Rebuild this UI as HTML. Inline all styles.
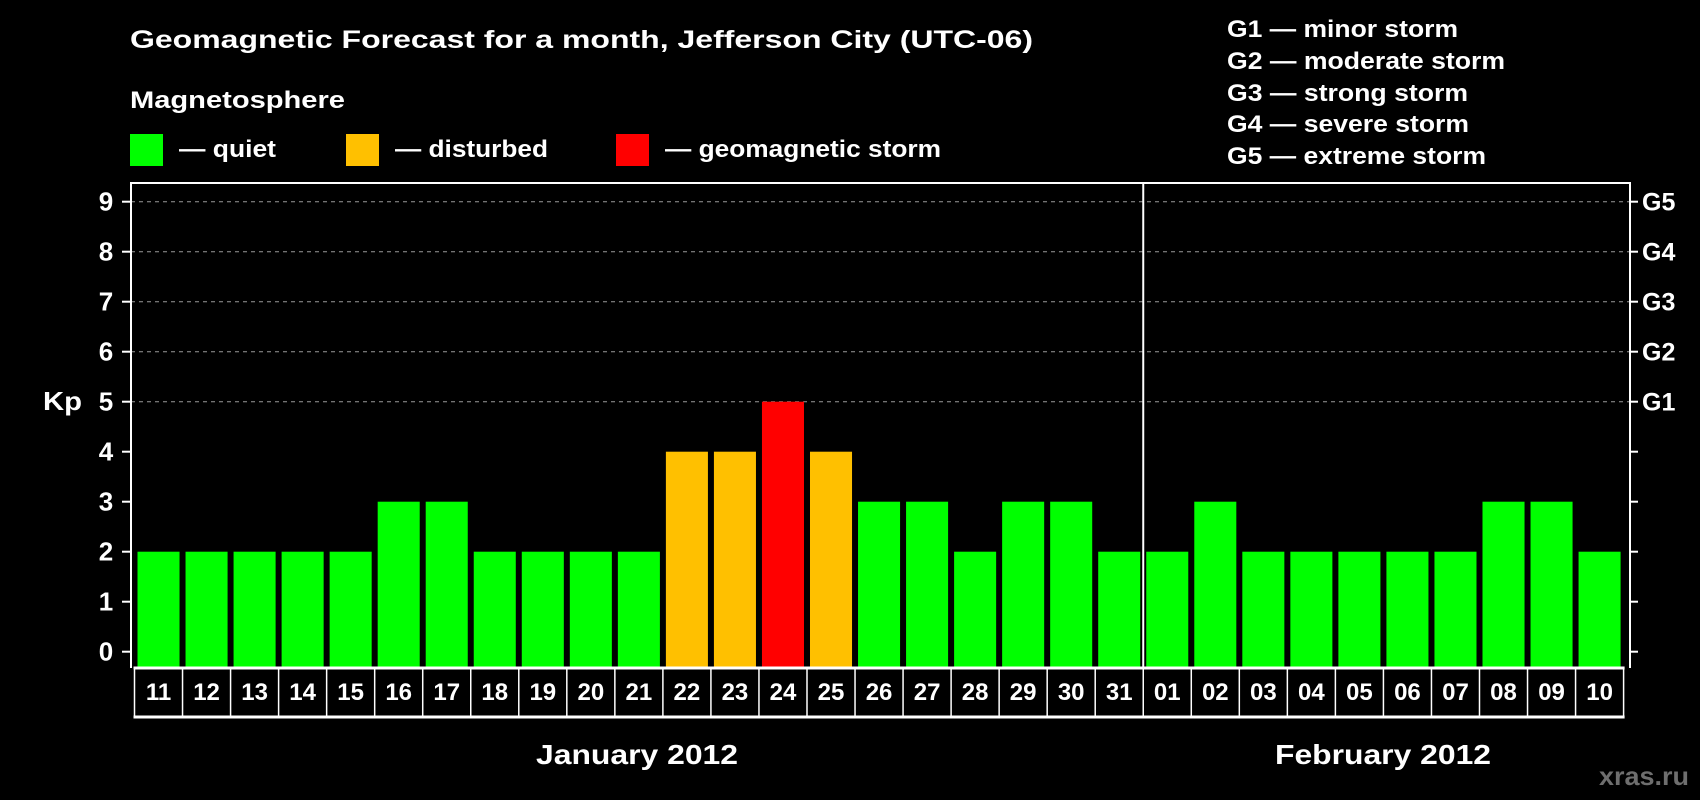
<!DOCTYPE html>
<html><head><meta charset="utf-8"><style>
html,body{margin:0;padding:0;background:#000;}
svg{display:block;font-family:"Liberation Sans",sans-serif;font-weight:bold;}
</style></head><body>
<svg id="chart" width="1700" height="800" viewBox="0 0 1700 800">
<rect x="0" y="0" width="1700" height="800" fill="#000"/>
<text x="130" y="48" fill="#fff" font-size="25" textLength="903" lengthAdjust="spacingAndGlyphs">Geomagnetic Forecast for a month, Jefferson City (UTC-06)</text>
<text x="130" y="108" fill="#fff" font-size="24" textLength="215" lengthAdjust="spacingAndGlyphs">Magnetosphere</text>
<g><rect x="130" y="134" width="33" height="32" fill="#00ff00"/><text x="179" y="157" fill="#fff" font-size="24" textLength="97" lengthAdjust="spacingAndGlyphs">— quiet</text></g>
<g><rect x="346" y="134" width="33" height="32" fill="#ffc000"/><text x="395" y="157" fill="#fff" font-size="24" textLength="153" lengthAdjust="spacingAndGlyphs">— disturbed</text></g>
<g><rect x="616" y="134" width="33" height="32" fill="#ff0000"/><text x="665" y="157" fill="#fff" font-size="24" textLength="276" lengthAdjust="spacingAndGlyphs">— geomagnetic storm</text></g>
<g font-size="24" fill="#fff">
<text x="1227" y="37" textLength="231" lengthAdjust="spacingAndGlyphs">G1 — minor storm</text>
<text x="1227" y="69" textLength="278" lengthAdjust="spacingAndGlyphs">G2 — moderate storm</text>
<text x="1227" y="101" textLength="241" lengthAdjust="spacingAndGlyphs">G3 — strong storm</text>
<text x="1227" y="132" textLength="242" lengthAdjust="spacingAndGlyphs">G4 — severe storm</text>
<text x="1227" y="164" textLength="259" lengthAdjust="spacingAndGlyphs">G5 — extreme storm</text>
</g>
<g id="plot"></g>
<text x="43" y="410" fill="#fff" font-size="26" textLength="39" lengthAdjust="spacingAndGlyphs">Kp</text>
<text x="536" y="764" fill="#fff" font-size="28" textLength="202" lengthAdjust="spacingAndGlyphs">January 2012</text>
<text x="1275" y="764" fill="#fff" font-size="28" textLength="216" lengthAdjust="spacingAndGlyphs">February 2012</text>
<text x="1599" y="785" fill="#6e6e6e" font-size="26" textLength="90" lengthAdjust="spacingAndGlyphs">xras.ru</text>
</svg>
<script>
const days = ["11","12","13","14","15","16","17","18","19","20","21","22","23","24","25","26","27","28","29","30","31","01","02","03","04","05","06","07","08","09","10"];
const kpValues = [2,2,2,2,2,3,3,2,2,2,2,4,4,5,4,3,3,2,3,3,2,2,3,2,2,2,2,2,3,3,2];
const yTicks = [0,1,2,3,4,5,6,7,8,9];
const gLabels = ["G1","G2","G3","G4","G5"];
const gLevels = [5,6,7,8,9];

const NS = "http://www.w3.org/2000/svg";
const plot = document.getElementById("plot");
const x0 = 134.5, x1 = 1623.6, axL = 131, axR = 1630, plotTop = 183, plotBottom = 668;
const slot = (x1 - x0) / days.length;
const yScale = v => 651.7 - v * 50;
const xScale = i => x0 + i * slot;
function mk(tag, attrs){const e=document.createElementNS(NS,tag);for(const k in attrs)e.setAttribute(k,attrs[k]);plot.appendChild(e);return e;}
function color(v){return v>=5?"#ff0000":(v>=4?"#ffc000":"#00ff00");}

gLevels.forEach((g,i)=>{
  const l=mk("line",{x1:axL,x2:axR,y1:yScale(g),y2:yScale(g),stroke:"#999","stroke-dasharray":"4,4","stroke-width":1});
  
  
  const t=mk("text",{x:1642,y:yScale(g)+9,fill:"#fff","font-size":25});
  t.textContent=gLabels[i];
  
  
});
kpValues.forEach((v,i)=>{
  const r=mk("rect",{x:xScale(i)+3,y:yScale(v),width:slot-6,height:plotBottom-yScale(v),fill:color(v)});
  
  
});
yTicks.forEach(v=>{
  const y=yScale(v);
  const a=mk("line",{x1:122,x2:axL,y1:y,y2:y,stroke:"#fff","stroke-width":2});
  
  
  const b=mk("line",{x1:axR,x2:axR+8,y1:y,y2:y,stroke:"#fff","stroke-width":2});
  
  
  const t=mk("text",{x:106,y:y+9,fill:"#fff","font-size":26,"text-anchor":"middle"});
  t.textContent=v;
  
  
});
const fr=mk("path",{d:`M${axL},${plotBottom} L${axL},${plotTop} L${axR},${plotTop} L${axR},${plotBottom}`,fill:"none",stroke:"#fff","stroke-width":2});


const sepIdx = days.indexOf("01");
const sep=mk("line",{x1:xScale(sepIdx),x2:xScale(sepIdx),y1:plotTop,y2:plotBottom,stroke:"#fff","stroke-width":2});


const bl=mk("line",{x1:x0-1,x2:x1+1,y1:plotBottom,y2:plotBottom,stroke:"#fff","stroke-width":3});


const bb=mk("line",{x1:x0-1,x2:x1+1,y1:717,y2:717,stroke:"#fff","stroke-width":3});


for(let i=0;i<=days.length;i++){
  const l=mk("line",{x1:xScale(i),x2:xScale(i),y1:plotBottom,y2:717,stroke:"#fff","stroke-width":1.5});
  
  
}
days.forEach((d,i)=>{
  const t=mk("text",{x:xScale(i)+slot/2,y:700,fill:"#fff","font-size":24,"text-anchor":"middle"});
  t.textContent=d;
  
  
});
</script>
</body></html>
